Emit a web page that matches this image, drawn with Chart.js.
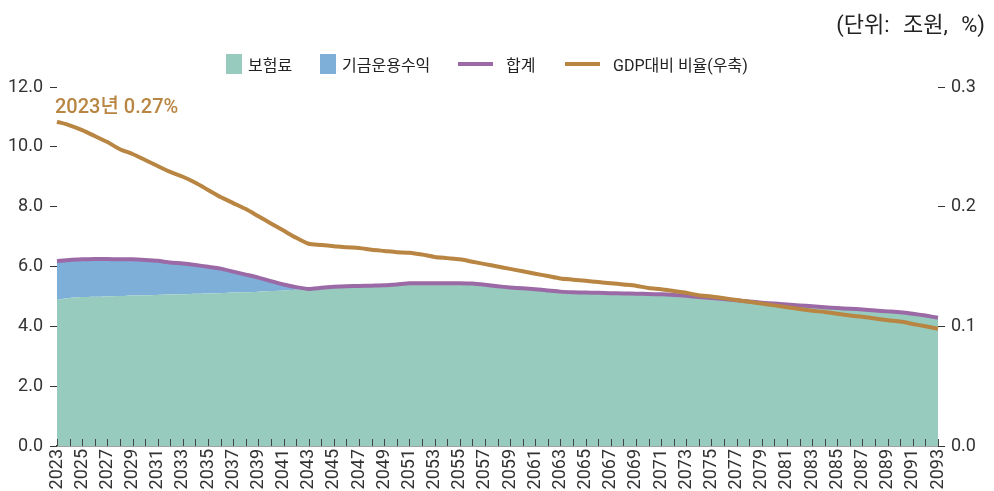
<!DOCTYPE html>
<html>
<head>
<meta charset="utf-8">
<script src="https://cdn.jsdelivr.net/npm/chart.js@4.4.1/dist/chart.umd.min.js"></script>
<style>
  html, body { margin: 0; padding: 0; background: #fff; }
  #wrap { position: relative; width: 994px; height: 491px; font-family: Roboto, "Noto Sans CJK KR", sans-serif; color: #222; }
  #unit { position: absolute; right: 9px; top: 6px; font-size: 22px; word-spacing: 8px; }
  .lg { position: absolute; top: 53px; height: 22px; display: flex; align-items: center; font-size: 16px; white-space: nowrap; }
  .box { width: 16px; height: 20px; margin-right: 6px; }
  .ln { width: 35px; height: 4px; margin-right: 13px; }
</style>
</head>
<body>
<div id="wrap">
  <canvas id="chart" width="994" height="491"></canvas>
  <div id="unit">(단위: 조원, %)</div>
  <div class="lg" style="left:226px"><span class="box" style="background:#97cbbe"></span>보험료</div>
  <div class="lg" style="left:320px"><span class="box" style="background:#7eafd8"></span>기금운용수익</div>
  <div class="lg" style="left:458px"><span class="ln" style="background:#9b6aa6"></span>합계</div>
  <div class="lg" style="left:565px"><span class="ln" style="background:#b88542"></span>GDP대비 비율(우축)</div>
</div>
<script>
// years 2023 ~ 2093
const years = [];
for (let y = 2023; y <= 2093; y++) years.push(String(y));

// 보험료 (조원)
const premium = [
  4.89, 4.95, 4.98, 4.99, 5.00, 5.01, 5.03, 5.04, 5.05, 5.06,
  5.07, 5.09, 5.10, 5.11, 5.13, 5.14, 5.16, 5.18, 5.20, 5.22,
  5.25,
  5.29, 5.32, 5.34, 5.35, 5.36, 5.37, 5.40, 5.44, 5.44, 5.44,
  5.44, 5.44, 5.43, 5.39, 5.34, 5.30, 5.27, 5.24, 5.20, 5.16,
  5.14, 5.13, 5.12, 5.11, 5.10, 5.09, 5.08, 5.07, 5.05, 5.02,
  4.98, 4.95, 4.91, 4.87, 4.83, 4.79, 4.76, 4.73, 4.70, 4.67,
  4.64, 4.61, 4.59, 4.56, 4.53, 4.50, 4.47, 4.42, 4.36, 4.29
];

// 기금운용수익 (조원)
const fundIncome = [
  1.29, 1.27, 1.26, 1.26, 1.25, 1.23, 1.21, 1.18, 1.14, 1.07,
  1.03, 0.96, 0.89, 0.82, 0.70, 0.59, 0.47, 0.33, 0.20, 0.09,
  0,
  0, 0, 0, 0, 0, 0, 0, 0, 0, 0,
  0, 0, 0, 0, 0, 0, 0, 0, 0, 0,
  0, 0, 0, 0, 0, 0, 0, 0, 0, 0,
  0, 0, 0, 0, 0, 0, 0, 0, 0, 0,
  0, 0, 0, 0, 0, 0, 0, 0, 0, 0
];

// 합계 (조원)
const total = [
  6.18, 6.22, 6.24, 6.25, 6.25, 6.24, 6.24, 6.22, 6.19, 6.13,
  6.10, 6.05, 5.99, 5.93, 5.83, 5.73, 5.63, 5.51, 5.40, 5.31,
  5.25,
  5.29, 5.32, 5.34, 5.35, 5.36, 5.37, 5.40, 5.44, 5.44, 5.44,
  5.44, 5.44, 5.43, 5.39, 5.34, 5.30, 5.27, 5.24, 5.20, 5.16,
  5.14, 5.13, 5.12, 5.11, 5.10, 5.09, 5.08, 5.07, 5.05, 5.02,
  4.98, 4.95, 4.91, 4.87, 4.83, 4.79, 4.76, 4.73, 4.70, 4.67,
  4.64, 4.61, 4.59, 4.56, 4.53, 4.50, 4.47, 4.42, 4.36, 4.29
];

// GDP대비 비율 (%, 우축)
const gdpRatio = [
  0.271, 0.268, 0.264, 0.259, 0.254, 0.248, 0.244, 0.239, 0.234, 0.229,
  0.225, 0.220, 0.214, 0.208, 0.203, 0.198, 0.192, 0.186, 0.180, 0.174,
  0.169,
  0.168, 0.167, 0.166, 0.1655, 0.164, 0.163, 0.162, 0.1615, 0.160, 0.158,
  0.157, 0.156, 0.154, 0.152, 0.150, 0.148, 0.146, 0.144, 0.142, 0.140,
  0.139, 0.138, 0.137, 0.136, 0.135, 0.134, 0.132, 0.131, 0.1295, 0.128,
  0.126, 0.125, 0.1235, 0.122, 0.1205, 0.119, 0.1175, 0.116, 0.1145, 0.113,
  0.112, 0.1105, 0.109, 0.108, 0.1065, 0.105, 0.104, 0.102, 0.100, 0.098
];

const firstNote = '2023년 0.27%';

const green = '#97cbbe';
const blue = '#7eafd8';
const purple = '#9b6aa6';
const brown = '#b88542';
const tickFont = { family: 'Roboto', size: 18 };

// annotation above the first point of the GDP line
const notePlugin = {
  id: 'note',
  afterDatasetsDraw(chart) {
    const pt = chart.getDatasetMeta(2).data[0];
    const ctx = chart.ctx;
    ctx.save();
    ctx.font = '500 20px Roboto, "Noto Sans CJK KR"';
    ctx.fillStyle = brown;
    ctx.textAlign = 'left';
    ctx.textBaseline = 'alphabetic';
    ctx.fillText(firstNote, pt.x - 2, pt.y - 9);
    ctx.restore();
  }
};

// year ticks pointing up from the x axis line
const innerTicks = {
  id: 'innerTicks',
  afterDatasetsDraw(chart) {
    const xs = chart.scales.x;
    const bottom = chart.chartArea.bottom;
    const ctx = chart.ctx;
    ctx.save();
    ctx.strokeStyle = '#444';
    ctx.lineWidth = 1;
    ctx.beginPath();
    xs.ticks.forEach((t, i) => {
      const px = Math.round(xs.getPixelForTick(i)) + 0.5;
      ctx.moveTo(px, bottom);
      ctx.lineTo(px, bottom - 7);
    });
    ctx.stroke();
    ctx.restore();
  }
};

new Chart(document.getElementById('chart'), {
  type: 'line',
  data: {
    labels: years,
    datasets: [
      {
        label: '보험료',
        data: premium,
        backgroundColor: green,
        borderWidth: 0,
        pointRadius: 0,
        fill: 'origin',
        stack: 'a',
        tension: 0.2
      },
      {
        label: '기금운용수익',
        data: fundIncome,
        backgroundColor: blue,
        borderWidth: 0,
        pointRadius: 0,
        fill: '-1',
        stack: 'a',
        tension: 0.2
      },
      {
        label: 'GDP대비 비율(우축)',
        data: gdpRatio,
        yAxisID: 'y2',
        borderColor: brown,
        borderWidth: 4,
        pointRadius: 0,
        fill: false,
        tension: 0.25
      },
      {
        label: '합계',
        data: total,
        borderColor: purple,
        borderWidth: 4,
        pointRadius: 0,
        fill: false,
        stack: 'b',
        tension: 0.2
      }
    ]
  },
  options: {
    responsive: false,
    animation: false,
    layout: { padding: { top: 87, left: 0, right: 0, bottom: 0 } },
    plugins: {
      legend: { display: false },
      title: { display: false },
      tooltip: { enabled: false },
      filler: { drawTime: 'beforeDatasetsDraw' }
    },
    scales: {
      x: {
        z: 1,
        grid: { display: false },
        border: { display: true, color: '#444', width: 1.5 },
        ticks: {
          autoSkip: false,
          minRotation: 90,
          maxRotation: 90,
          padding: -5,
          color: '#333',
          font: tickFont,
          callback: function(value, index) {
            return index % 2 === 0 ? years[index] : '';
          }
        },
        afterFit: function(scale) { scale.height = 45; }
      },
      y: {
        stacked: true,
        min: 0,
        max: 12,
        grid: {
          display: true,
          drawOnChartArea: false,
          tickLength: 7,
          color: '#333'
        },
        border: { display: false },
        ticks: {
          stepSize: 2,
          padding: 7,
          color: '#333',
          font: tickFont,
          callback: function(value) { return value.toFixed(1); }
        },
        afterFit: function(scale) { scale.width = 57; }
      },
      y2: {
        position: 'right',
        min: 0,
        max: 0.3,
        grid: {
          display: true,
          drawOnChartArea: false,
          tickLength: 7,
          color: '#333'
        },
        border: { display: false },
        ticks: {
          stepSize: 0.1,
          padding: 6,
          color: '#333',
          font: tickFont,
          callback: function(value) { return value.toFixed(1); }
        },
        afterFit: function(scale) { scale.width = 56; }
      }
    }
  },
  plugins: [notePlugin, innerTicks]
});
</script>
</body>
</html>
